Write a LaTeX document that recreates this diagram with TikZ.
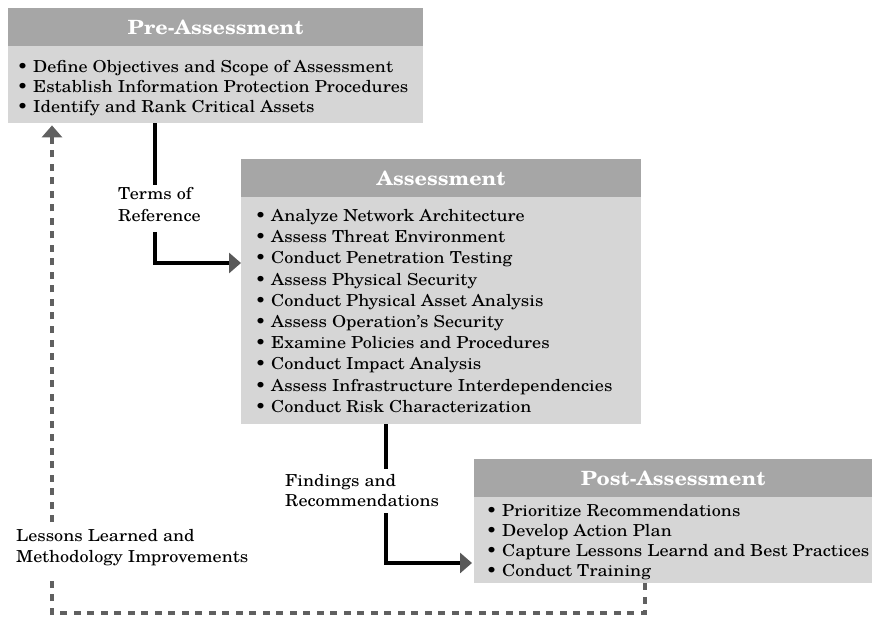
\documentclass[tikz,border=0pt]{standalone}
\usepackage{fontspec}
\setmainfont{TeX Gyre Schola}[FakeStretch=1.1]
\usetikzlibrary{arrows.meta}
\definecolor{hdrgray}{HTML}{A6A6A6}
\definecolor{bodygray}{HTML}{D6D6D6}
\definecolor{tipgray}{HTML}{595959}
\definecolor{dashgray}{HTML}{606060}
\begin{document}
\begin{tikzpicture}[x=1pt,y=-1pt,
  hdr/.style={fill=hdrgray, draw=none, anchor=north west, inner sep=0pt, text=white,
    font=\fontsize{19.6}{22}\selectfont\bfseries},
  bodybox/.style={fill=bodygray, draw=none, anchor=north west, inner sep=0pt},
  item/.style={anchor=base west, inner sep=0pt, font=\fontsize{16.5}{20}\selectfont},
  flow/.style={line width=4pt, black},
  flowarrow/.style={flow, -{Triangle[length=12pt,width=20pt,color=tipgray]}},
  loop/.style={line width=4pt, dashgray, dash pattern=on 7pt off 6.5pt},
  looparrow/.style={loop, -{Triangle[length=12pt,width=20pt,color=dashgray]}}
]
\useasboundingbox (0,0) rectangle (872,617);

% boxes
\node[hdr, minimum width=415pt, minimum height=38pt] (preH) at (8,8) {Pre-Assessment};
\node[bodybox, minimum width=415pt, minimum height=77pt] (preB) at (8,46) {};
\node[hdr, minimum width=400pt, minimum height=38pt] (asH) at (241,159) {Assessment};
\node[bodybox, minimum width=400pt, minimum height=227pt] (asB) at (241,197) {};
\node[hdr, minimum width=398pt, minimum height=38pt] (poH) at (474,459) {Post-Assessment};
\node[bodybox, minimum width=398pt, minimum height=86pt] (poB) at (474,497) {};

% items
\node[item] (p1) at (17,72.5) {• Define Objectives and Scope of Assessment};
\node[item] (p2) at (17,92.5) {• Establish Information Protection Procedures};
\node[item] (p3) at (17,112.5) {• Identify and Rank Critical Assets};

\foreach \t [count=\i from 0] in {Analyze Network Architecture,Assess Threat Environment,Conduct Penetration Testing,Assess Physical Security,Conduct Physical Asset Analysis,Assess Operation's Security,Examine Policies and Procedures,Conduct Impact Analysis,Assess Infrastructure Interdependencies,Conduct Risk Characterization}
  \node[item] (a\i) at (255,221.5+21.2*\i) {• \t};

\node[item] (q1) at (486,516) {• Prioritize Recommendations};
\node[item] (q2) at (486,536.3) {• Develop Action Plan};
\node[item] (q3) at (486,556.6) {• Capture Lessons Learnd and Best Practices};
\node[item] (q4) at (486,576.9) {• Conduct Training};

% labels
\node[item] (t1) at (118,200) {Terms of};
\node[item] (t2) at (118,221.5) {Reference};
\node[item] (f1) at (285,486.5) {Findings and};
\node[item] (f2) at (285,506.5) {Recommendations};
\node[item] (l1) at (16,541.5) {Lessons Learned and};
\node[item] (l2) at (16,562.5) {Methodology Improvements};

% connectors
\coordinate (c1) at (155,263);
\coordinate (g1a) at (155,185);
\coordinate (g1b) at (155,232);
\draw[flow] (preB.south -| c1) -- (g1a);
\draw[flowarrow] (g1b) |- (c1 -| asB.west);

\coordinate (c2) at (386,563);
\coordinate (g2a) at (386,469);
\coordinate (g2b) at (386,513);
\draw[flow] (asB.south -| c2) -- (g2a);
\draw[flowarrow] (g2b) |- ([xshift=-2pt]c2 -| poB.west);

\coordinate (d1) at (645,613);
\coordinate (d2) at (52,613);
\coordinate (g3a) at (52,575);
\coordinate (g3b) at (52,522);
\draw[loop] (poB.south -| d1) -- (d1) -- (d2) -- (g3a);
\draw[looparrow] (g3b) -- ([yshift=-2pt]preB.south -| g3b);
\end{tikzpicture}
\end{document}
